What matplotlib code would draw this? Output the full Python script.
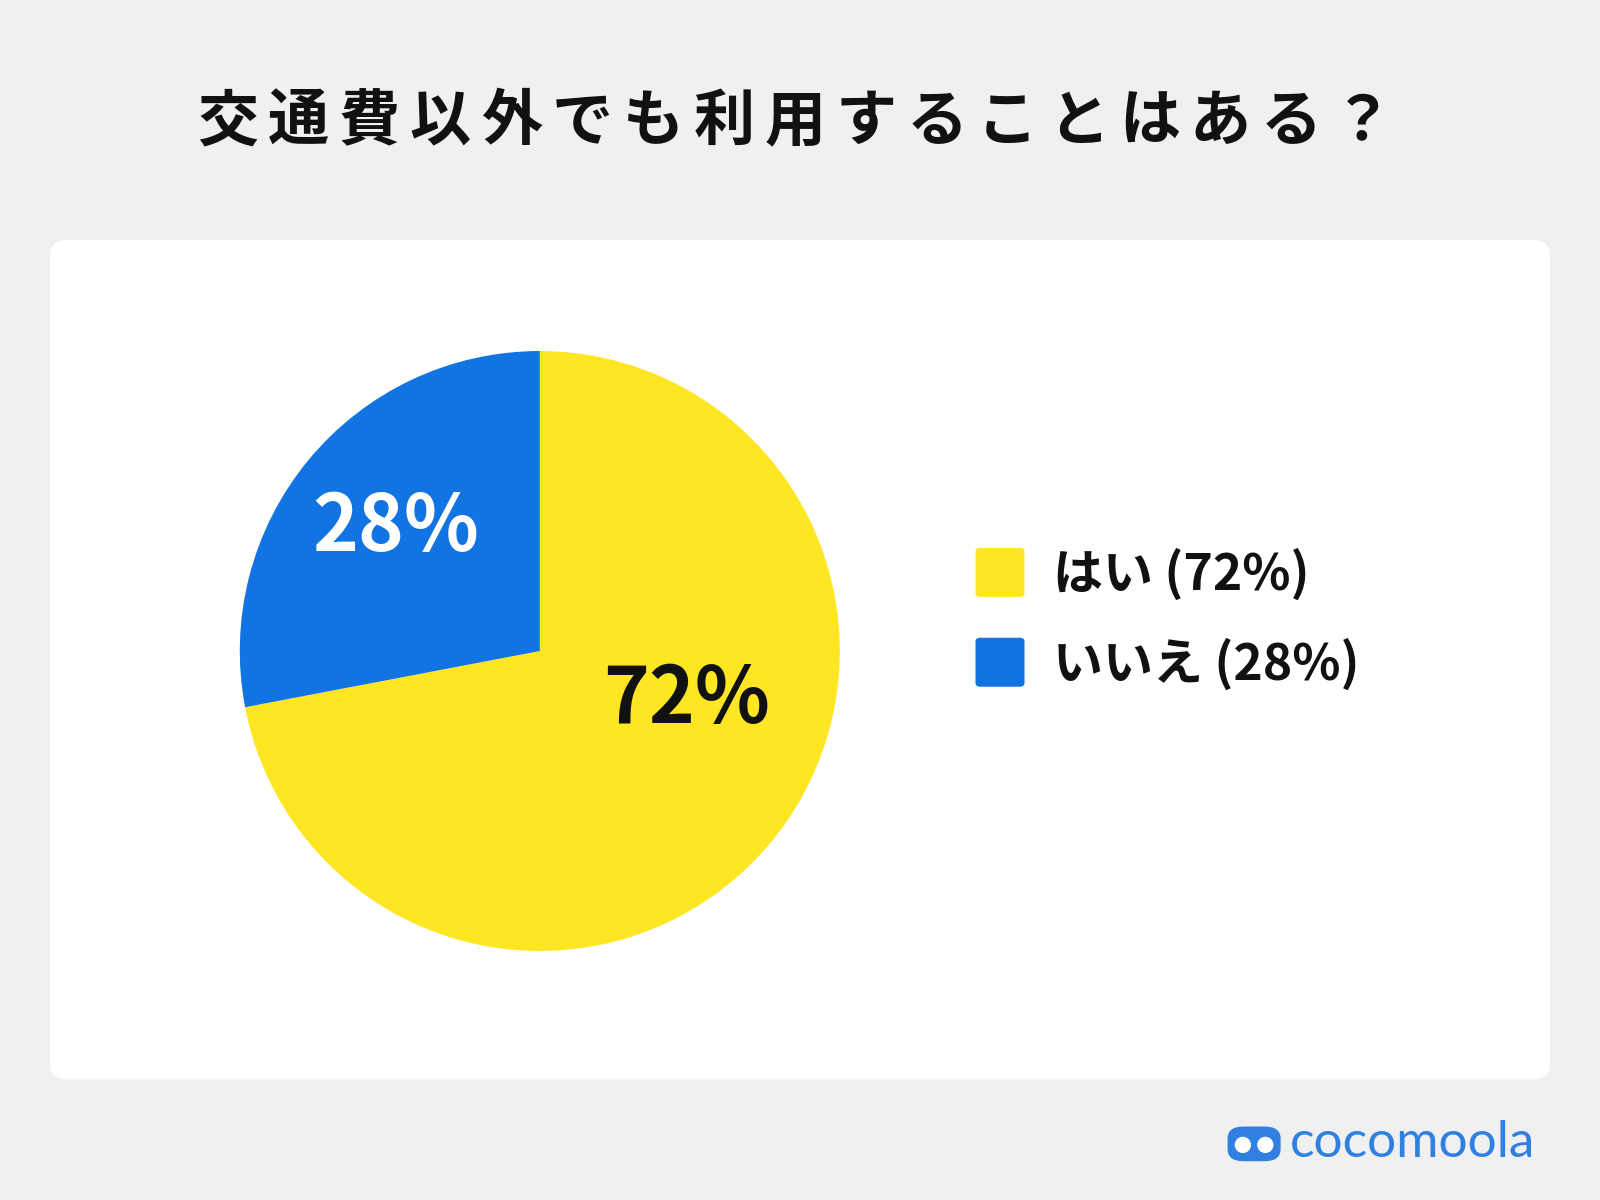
import matplotlib
matplotlib.use("Agg")
import matplotlib.pyplot as plt
from matplotlib.patches import FancyBboxPatch, Ellipse

plt.rcParams['font.family'] = ['Noto Sans CJK JP', 'DejaVu Sans']

title = "交通費以外でも利用することはある？"
labels = ["はい", "いいえ"]
values = [72, 28]
colors = ["#FFE622", "#1273E3"]
text_colors = ["#111111", "#FFFFFF"]

W, H = 1568, 1176
fig = plt.figure(figsize=(16, 12), dpi=100)
fig.patch.set_facecolor("#F0F0F0")

def fx(x): return x / W
def fy(y): return 1 - y / H

panel = FancyBboxPatch((fx(49), fy(1058)), fx(1519) - fx(49), fy(235) - fy(1058),
                       boxstyle="round,pad=0,rounding_size=0.012", transform=fig.transFigure,
                       facecolor="white", edgecolor="none", zorder=-5)
fig.patches.append(panel)

# title with letter spacing
x0, step = 223, 69.5
for i, ch in enumerate(title):
    fig.text(fx(x0 + i * step), fy(120), ch, ha="center", va="center", fontsize=44,
             fontweight="bold", color="#111111")

cx, cy, r = 529, 638, 294
ax = fig.add_axes([fx(cx - r), fy(cy + r), fx(2 * r), fy(cy - r) - fy(cy + r)])
ax.set_zorder(2)
ax.patch.set_alpha(0)
ax.pie(values, colors=colors, startangle=90, counterclock=False,
       wedgeprops=dict(linewidth=0))
ax.set_aspect("equal")
ax.set_xlim(-1, 1); ax.set_ylim(-1, 1)
ax.axis("off")

pos = [(673, 686), (388, 518)]
for (x, y), v, tc in zip(pos, values, text_colors):
    fig.text(fx(x), fy(y), f"{v}%", ha="center", va="center", fontsize=56,
             fontweight="bold", color=tc, zorder=5)

for i, (lab, v, c) in enumerate(zip(labels, values, colors)):
    y0 = 537 + i * 88
    fig.patches.append(FancyBboxPatch((fx(956), fy(y0 + 48)), fx(48), fy(0) - fy(48),
                       boxstyle="round,pad=0,rounding_size=0.003", transform=fig.transFigure,
                       facecolor=c, edgecolor="none"))
    fig.text(fx(1032), fy(y0 + 26), f"{lab} ({v}%)", ha="left", va="center",
             fontsize=36, fontweight="bold", color="#111111")

blue = "#2F80E0"
fig.text(fx(1264), fy(1120), "cocomoola", ha="left", va="center", fontsize=37,
         color=blue, family=["Lato", "DejaVu Sans"])
fig.patches.append(FancyBboxPatch((fx(1203), fy(1138)), fx(52), fy(0) - fy(34),
                   boxstyle="round,pad=0,rounding_size=0.01", transform=fig.transFigure,
                   facecolor=blue, edgecolor="none"))
for ex in (1218, 1240):
    fig.patches.append(Ellipse((fx(ex), fy(1122)), fx(16), fy(0) - fy(16),
                       transform=fig.transFigure, facecolor="white", edgecolor="none"))

fig.savefig("out.png", dpi=100, facecolor=fig.get_facecolor())
